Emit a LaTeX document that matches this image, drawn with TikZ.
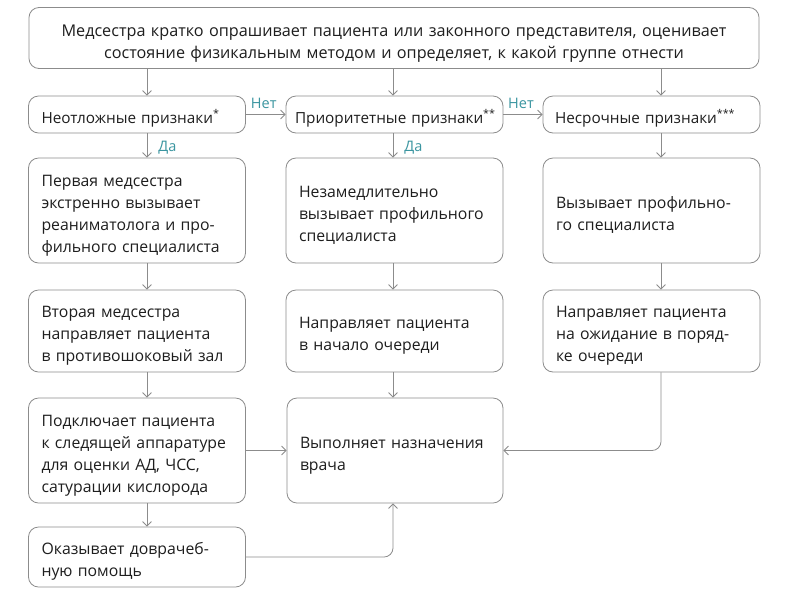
\documentclass[tikz,border=0pt]{standalone}
\usepackage{fontspec}
\setmainfont{Open Sans}
\usetikzlibrary{arrows.meta}
\definecolor{edgegray}{HTML}{8C8C8C}
\definecolor{txt}{HTML}{1E1E1E}
\definecolor{teal}{HTML}{3A95A0}
\begin{document}
\begin{tikzpicture}[x=1pt,y=-1pt,
  bx/.style={draw=edgegray, line width=0.8pt, rounded corners=10pt, text=txt,
    inner xsep=13pt, inner ysep=0pt, align=left,
    font=\fontsize{15.8}{22}\selectfont,
    execute at begin node={\rule{0pt}{21pt}}},
  bxw/.style={bx, text width=191pt},
  hdr/.style={bxw, minimum height=37pt, font=\fontsize{15.3}{22}\selectfont},
  arr/.style={draw=edgegray, line width=0.8pt, -{Straight Barb[length=4.5pt,width=9pt]}},
  lab/.style={text=teal, font=\fontsize{14.5}{16}\selectfont, inner sep=1pt}]
\useasboundingbox[fill=white] (0,0) rectangle (786,598);
% column coordinates
\coordinate (cA) at (147,0);
\coordinate (cB) at (393,0);
\coordinate (cC) at (661,0);
% top
\node[bx, align=center, text width=704pt, minimum height=61pt,
  font=\fontsize{16.2}{22}\selectfont, execute at begin node={\rule{0pt}{23pt}}] (top) at (394,38)
  {Медсестра кратко опрашивает пациента или законного представителя, оценивает\\
   состояние физикальным методом и определяет, к какой группе отнести};
% row 2
\node[hdr] (r2a) at (137,114.5) {\mbox{Неотложные признаки\textsuperscript{*}}};
\node[hdr, inner xsep=9pt, text width=199pt] (r2b) at (394.5,114.5) {\mbox{Приоритетные признаки\textsuperscript{**}}};
\node[hdr, inner xsep=12pt, text width=193pt] (r2c) at (651.5,114.5) {\mbox{Несрочные признаки\textsuperscript{***}}};
% row 3
\node[bxw, minimum height=105pt] (r3a) at (137,210.5)
  {Первая медсестра\\экстренно вызывает\\реаниматолога и про-\\фильного специалиста};
\node[bxw, minimum height=105pt] (r3b) at (394.5,210.5)
  {Незамедлительно\\вызывает профильного\\специалиста};
\node[bxw, minimum height=105pt] (r3c) at (651.5,210.5)
  {Вызывает профильно-\\го специалиста};
% row 4
\node[bxw, minimum height=82pt] (r4a) at (137,331)
  {Вторая медсестра\\направляет пациента\\в противошоковый зал};
\node[bxw, minimum height=82pt] (r4b) at (394.5,331)
  {Направляет пациента\\в начало очереди};
\node[bxw, minimum height=82pt] (r4c) at (651.5,331)
  {Направляет пациента\\на ожидание в поряд-\\ке очереди};
% row 5
\node[bxw, minimum height=105pt] (r5a) at (137,450.5)
  {Подключает пациента\\к следящей аппаратуре\\для оценки АД, ЧСС,\\сатурации кислорода};
\node[bxw, minimum height=105pt, text width=190pt] (r5b) at (395,450.5)
  {Выполняет назначения\\врача};
% row 6
\node[bxw, minimum height=60pt] (r6a) at (137,557)
  {Оказывает доврачеб-\\ную помощь};
% connectors
\draw[arr] (top.south -| cA) -- (r2a.north -| cA);
\draw[arr] (top.south -| cB) -- (r2b.north -| cB);
\draw[arr] (top.south -| cC) -- (r2c.north -| cC);
\draw[arr] (r2a.east) -- node[lab, above, pos=0.45, yshift=4pt] (n1) {Нет} (r2b.west);
\draw[arr] (r2b.east) -- node[lab, above, pos=0.45, yshift=4pt] (n2) {Нет} (r2c.west);
\draw[arr] (r2a.south -| cA) -- node[lab, right, xshift=10pt, yshift=-2pt] (d1) {Да} (r3a.north -| cA);
\draw[arr] (r2b.south -| cB) -- node[lab, right, xshift=10pt, yshift=-2pt] (d2) {Да} (r3b.north -| cB);
\draw[arr] (r2c.south -| cC) -- (r3c.north -| cC);
\draw[arr] (r3a.south -| cA) -- (r4a.north -| cA);
\draw[arr] (r3b.south -| cB) -- (r4b.north -| cB);
\draw[arr] (r3c.south -| cC) -- (r4c.north -| cC);
\draw[arr] (r4a.south -| cA) -- (r5a.north -| cA);
\draw[arr] (r4b.south -| cB) -- (r5b.north -| cB);
\draw[arr] (r5a.south -| cA) -- (r6a.north -| cA);
\draw[arr] (r5a.east) -- (r5b.west);
\draw[arr, rounded corners=9pt] (r4c.south -| cC) |- (r5b.east);
\draw[arr, rounded corners=9pt] (r6a.east) -| (r5b.south -| cB);
\end{tikzpicture}
\end{document}
